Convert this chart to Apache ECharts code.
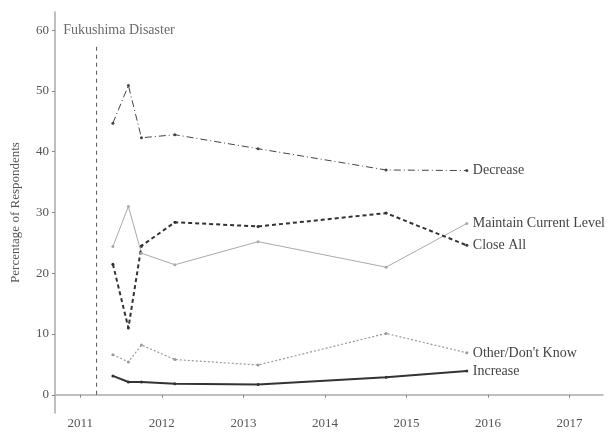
<!DOCTYPE html>
<html>
<head>
<meta charset="utf-8">
<script src="https://cdn.jsdelivr.net/npm/echarts@6/dist/echarts.min.js"></script>
<style>
  html, body { margin: 0; padding: 0; background: #fff; }
  #chart { width: 612px; height: 432px; }
</style>
</head>
<body>
<div id="chart"></div>
<script>
// survey dates (decimal years)
const surveyDates = [2011.40, 2011.59, 2011.75, 2012.16, 2013.18, 2014.75, 2015.74]

const decrease = [44.7, 50.9, 42.3, 42.8, 40.5, 37.0, 36.9]
const maintainCurrent = [24.4, 31.0, 23.3, 21.4, 25.2, 21.0, 28.2]
const closeAll = [21.5, 11.0, 24.5, 28.4, 27.7, 29.9, 24.6]
const otherDontKnow = [6.6, 5.4, 8.2, 5.8, 4.9, 10.1, 6.9]
const increase = [3.1, 2.1, 2.1, 1.8, 1.7, 2.9, 3.9]

const xTicks = [2011, 2012, 2013, 2014, 2015, 2016, 2017]
const yTicks = [0, 10, 20, 30, 40, 50, 60]

const fukushimaDate = 2011.2
const fukushimaSpan = [0, 57.9]
const fukushimaLabel = 'Fukushima Disaster'

const serif = 'Liberation Serif'

function pairs(ys) {
  return ys.map((y, i) => [surveyDates[i], y])
}

function lineSeries(name, data, color, width, dash) {
  return {
    name: name,
    type: 'line',
    data: pairs(data),
    symbol: 'circle',
    symbolSize: 3,
    itemStyle: { color: color },
    lineStyle: { color: color, width: width, type: dash },
    endLabel: {
      show: true,
      formatter: name,
      color: '#444',
      fontFamily: serif,
      fontSize: 14,
      distance: 6
    },
    emphasis: { disabled: true },
    z: 3
  }
}

const chart = echarts.init(document.getElementById('chart'))
chart.setOption({
  animation: false,
  grid: { left: 55, right: 9, top: 12, bottom: 19 },
  xAxis: {
    type: 'value',
    min: 2010.69,
    max: 2017.41,
    axisLine: { show: true, lineStyle: { color: '#aaa', width: 1.5 } },
    axisTick: { show: true, customValues: xTicks, length: 3, lineStyle: { color: '#888' } },
    axisLabel: {
      customValues: xTicks,
      formatter: v => String(v),
      color: '#555',
      fontFamily: serif,
      fontSize: 13,
      margin: 4
    },
    splitLine: { show: false }
  },
  yAxis: {
    type: 'value',
    min: -3,
    max: 63,
    name: 'Percentage of Respondents',
    nameLocation: 'middle',
    nameGap: 33,
    nameTextStyle: { color: '#555', fontFamily: serif, fontSize: 13 },
    axisLine: { show: true, lineStyle: { color: '#aaa', width: 1.5 } },
    axisTick: { show: true, customValues: yTicks, length: 3, lineStyle: { color: '#888' } },
    axisLabel: {
      customValues: yTicks,
      color: '#555',
      fontFamily: serif,
      fontSize: 13,
      margin: 6
    },
    splitLine: { show: false }
  },
  series: [
    {
      name: fukushimaLabel,
      type: 'line',
      data: fukushimaSpan.map(v => [fukushimaDate, v]),
      symbol: 'none',
      lineStyle: { color: '#555', width: 1, type: [4, 4] },
      emphasis: { disabled: true },
      z: 2
    },
    {
      type: 'scatter',
      data: [[2010.79, 60]],
      symbolSize: 0,
      label: {
        show: true,
        position: 'right',
        distance: 0,
        formatter: fukushimaLabel,
        color: '#444',
        fontFamily: serif,
        fontSize: 14
      },
      emphasis: { disabled: true }
    },
    lineSeries('Decrease', decrease, '#444', 1, [7, 3, 1, 3]),
    lineSeries('Maintain Current Level', maintainCurrent, '#aaa', 1, 'solid'),
    lineSeries('Close All', closeAll, '#333', 2, [4, 3]),
    lineSeries('Other/Don\'t Know', otherDontKnow, '#999', 1.2, [2, 2]),
    lineSeries('Increase', increase, '#333', 2, 'solid')
  ]
})
</script>
</body>
</html>
